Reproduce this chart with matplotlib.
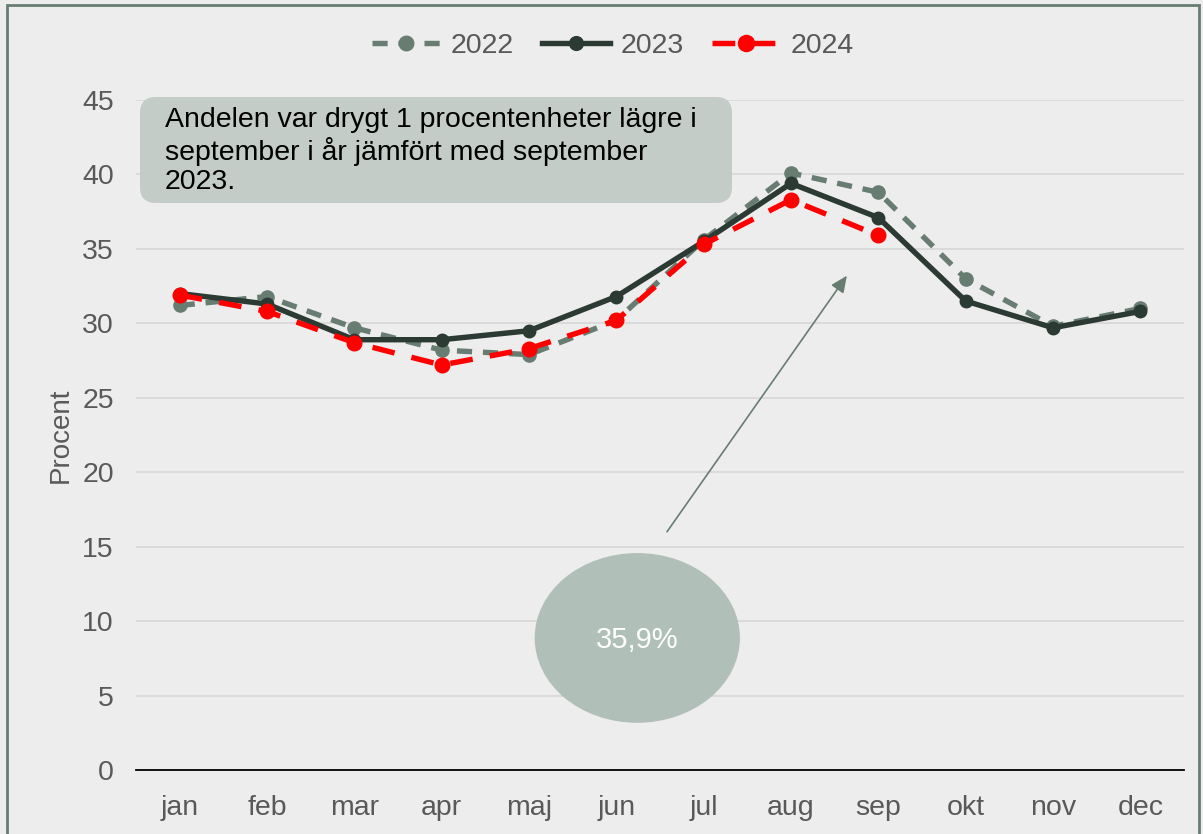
import matplotlib
matplotlib.use("Agg")
import matplotlib.pyplot as plt
from matplotlib.patches import Ellipse, FancyBboxPatch, Rectangle
from matplotlib.transforms import IdentityTransform

months = ["jan", "feb", "mar", "apr", "maj", "jun", "jul", "aug", "sep", "okt", "nov", "dec"]
y2022 = [31.2, 31.8, 29.7, 28.2, 27.9, 30.2, 35.6, 40.1, 38.8, 33.0, 29.8, 31.0]
y2023 = [32.0, 31.3, 28.9, 28.9, 29.5, 31.8, 35.5, 39.4, 37.1, 31.5, 29.7, 30.8]
y2024 = [31.9, 30.8, 28.7, 27.2, 28.3, 30.2, 35.3, 38.3, 35.9]
series_labels = ["2022", "2023", "2024"]
yticks = [0, 5, 10, 15, 20, 25, 30, 35, 40, 45]
note_text = "Andelen var drygt 1 procentenheter lägre i\nseptember i år jämfört med september\n2023."
bubble_text = "35,9%"

plt.rcParams['font.family'] = ['Liberation Sans', 'DejaVu Sans']

BG = "#EDEDED"
C22 = "#687D72"
C23 = "#2B3A33"
C24 = "#FF0000"
TXT = "#595959"

fig = plt.figure(figsize=(12.03, 8.34), dpi=100, facecolor=BG)
ax = fig.add_axes([136/1203, 64/834, 1048/1203, 670/834])
ax.set_facecolor(BG)

x = list(range(len(months)))
ax.plot(x, y2022, color=C22, lw=3.9, ls=(0, (2.8, 2.0)), marker='o', ms=9.5, label=series_labels[0], zorder=3)
ax.plot(x, y2023, color=C23, lw=3.9, ls='-', marker='o', ms=9, label=series_labels[1], zorder=4)
ax.plot(x[:len(y2024)], y2024, color=C24, lw=3.9, ls=(0, (4.2, 3.2)), marker='o', ms=10.5, label=series_labels[2], zorder=5)

ax.set_xlim(-0.5, len(months) - 0.5)
ax.set_ylim(0, 45)
ax.set_yticks(yticks)
ax.set_xticks(x)
ax.set_xticklabels(months)
ax.tick_params(axis='x', length=0, labelsize=20.5, colors=TXT, pad=18)
ax.tick_params(axis='y', length=0, labelsize=20.5, colors=TXT, pad=16)
ax.grid(axis='y', color="#D9D9D9", lw=1.3)
ax.set_axisbelow(True)
for s in ['left', 'right', 'top']:
    ax.spines[s].set_visible(False)
ax.spines['bottom'].set_color('black')
ax.spines['bottom'].set_linewidth(1.3)
ax.set_ylabel("Procent", fontsize=20, color=TXT, labelpad=6)

leg = ax.legend(loc='center', bbox_to_anchor=(0.455, 1.081), ncol=3, frameon=False,
                fontsize=20.5, handlelength=2.4, columnspacing=1.0, handletextpad=0.35,
                markerscale=1.1)
for t in leg.get_texts():
    t.set_color(TXT)

# Annotation bubble and arrow
ax.add_patch(Ellipse((5.24, 8.87), 2.35, 11.4, facecolor="#B0BFB8", edgecolor='none', zorder=2))
ax.text(5.24, 8.7, bubble_text, ha='center', va='center', fontsize=21, color='white', zorder=3)
ax.annotate("", xy=(7.64, 33.2), xytext=(5.58, 16.0),
            arrowprops=dict(arrowstyle='-|>,head_length=1.0,head_width=0.45', color=C22, lw=1.2,
                            shrinkA=0, shrinkB=0), zorder=2)

# Note box (pixel coordinates, origin bottom-left)
box = FancyBboxPatch((140, 834 - 203), 592, 106, boxstyle="round,pad=0,rounding_size=16",
                     transform=IdentityTransform(), facecolor="#C3CCC7", edgecolor='none', zorder=6)
fig.patches.append(box)
fig.text(165/1203, (834 - 107)/834, note_text, ha='left', va='top', fontsize=20.5, color='black',
         linespacing=1.17, zorder=7)

# Figure border
border = Rectangle((7, -10), 1192, 839, transform=IdentityTransform(), fill=False,
                   edgecolor=C22, lw=2)
fig.patches.append(border)

fig.savefig("out.png", dpi=100, facecolor=BG)
